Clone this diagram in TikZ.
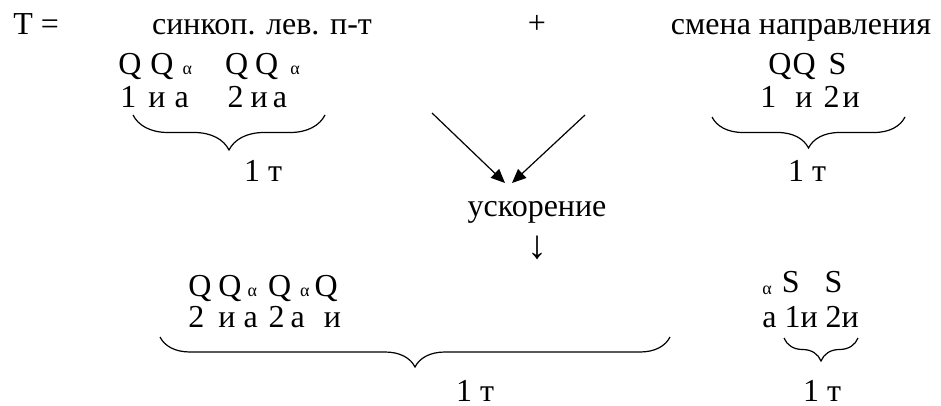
\documentclass[tikz,border=0pt]{standalone}
\usepackage{fontspec}
\setmainfont{Liberation Serif}
\usetikzlibrary{arrows.meta,decorations.pathreplacing}
\newcommand{\al}{{\fontsize{9}{9}\selectfont α}}
\newcommand{\gp}[1]{\hspace{#1pt}}

\begin{document}
\begin{tikzpicture}[x=0.5pt,y=-0.5pt,
  txt/.style={anchor=base,inner sep=0pt,font=\fontsize{16}{19}\selectfont},
  row/.style={txt,anchor=base west},
  brc/.style={decorate,decoration={brace,mirror,amplitude=#1},line width=0.6pt},
  arr/.style={-{Triangle[length=7pt,width=6pt]},line width=0.6pt}]

  \useasboundingbox (0,0) rectangle (941,406);

  % upper row
  \node[row] (teq) at (13,35) {T =};
  \node[txt] (sync) at (262,35) {синкоп. лев. п-т};
  \node[txt] (plus) at (537,34) {+};
  \node[txt] (turn) at (801,35) {смена направления};

  \node[row] (qleft) at (118,75) {Q\gp{4.5}Q\gp{4.5}\al\gp{16.5}Q\gp{3.5}Q\gp{6}\al};
  \node[row] (nleft) at (120,108) {1\gp{6}и\gp{4.5}а\gp{19.5}2\gp{3.5}и\gp{2.5}а};
  \node[txt] (tleft) at (263,182) {1 т};

  \node[row] (qright) at (768,75) {Q\gp{0.5}Q\gp{6.5}S};
  \node[row] (nright) at (760,108) {1\gp{9.5}и\gp{5.5}2\gp{1.5}и};
  \node[txt] (tright) at (807,182) {1 т};

  \draw[brc=17.5pt] (133,115) -- (325,115);
  \draw[brc=15.5pt] (712,117) -- (905,117);

  % arrows down
  \coordinate (a1) at (432,113);
  \coordinate (a2) at (585,115);
  \coordinate (m1) at (505,183);
  \coordinate (m2) at (512,183);
  \draw[arr] (a1) -- (m1);
  \draw[arr] (a2) -- (m2);

  \node[txt] (acc) at (537,217) {ускорение};
  \node[txt,font=\fontsize{20}{22}\selectfont] (down) at (537,258) {↓};

  % lower row
  \node[row] (qbot) at (188,296) {Q\gp{3.5}Q\gp{3}\al\gp{5.5}Q\gp{4.5}\al\gp{2.5}Q};
  \node[row] (nbot) at (188,327) {2\gp{7}и\gp{4}а\gp{5.5}2\gp{3}а\gp{9.5}и};
  \node[txt] (tbot) at (475,401) {1 т};

  \node[row] (sbot) at (762,292) {\raisebox{-1.5pt}{\al}\gp{5}S\gp{12.5}S};
  \node[row] (mbot) at (762,327) {а 1и 2и};
  \node[txt] (ubot) at (822,401) {1 т};

  \draw[brc=15pt] (160,337) -- (670,337);
  \draw[brc=11.5pt] (784,338) -- (858,338);
\end{tikzpicture}
\end{document}
